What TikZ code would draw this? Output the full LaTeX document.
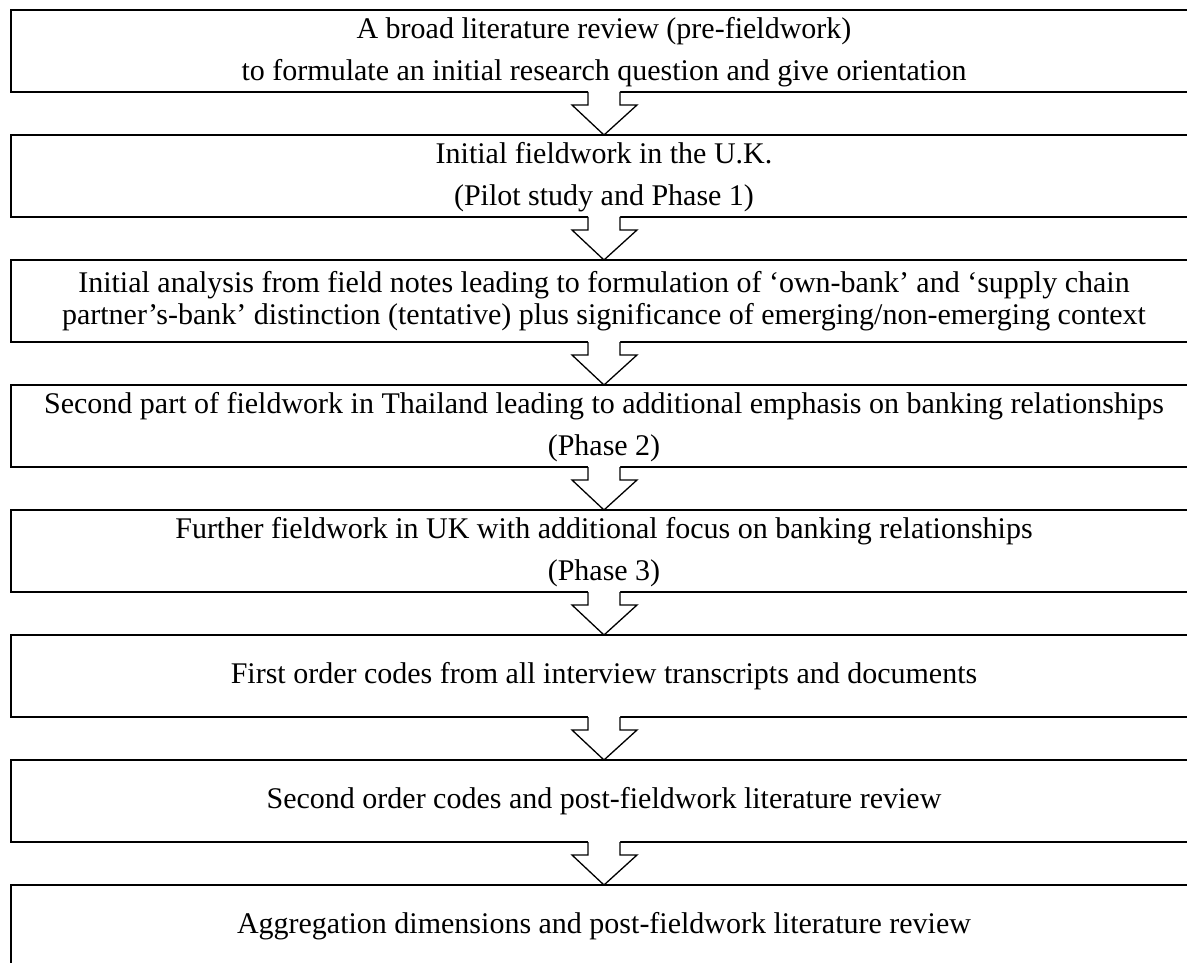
\documentclass[tikz,border=0pt]{standalone}
\usepackage{fontspec}
\setmainfont{Liberation Serif}
\usetikzlibrary{positioning,calc}
\tikzset{
  stagebox/.style={
    rectangle, draw=black, line width=1.3pt, outer sep=0pt,
    minimum width=1186pt, minimum height=82pt, align=center,
    inner sep=0pt, font=\fontsize{30}{42}\selectfont
  },
  tight/.style={font=\fontsize{30}{32}\selectfont},
  hollow/.style={draw=black, line width=1.3pt, line join=miter}
}

\begin{document}
\begin{tikzpicture}[x=1pt,y=-1pt]
\useasboundingbox (0,0) rectangle (1187,963);

% =========================
% STAGES
% =========================
\node[stagebox, anchor=north] (b1) at (604,10)
  {\rule{0pt}{24pt}A broad literature review (pre-fieldwork)\\
   to formulate an initial research question and give orientation};
\node[stagebox, below=43pt of b1] (b2)
  {\rule{0pt}{24pt}Initial fieldwork in the U.K.\\(Pilot study and Phase 1)};
\node[stagebox, tight, below=43pt of b2] (b3)
  {Initial analysis from field notes leading to formulation of ‘own-bank’ and ‘supply chain\\
   partner’s-bank’ distinction (tentative) plus significance of emerging/non-emerging context};
\node[stagebox, below=43pt of b3] (b4)
  {\rule{0pt}{24pt}Second part of fieldwork in Thailand leading to additional emphasis on banking relationships\\(Phase 2)};
\node[stagebox, below=43pt of b4] (b5)
  {\rule{0pt}{24pt}Further fieldwork in UK with additional focus on banking relationships\\(Phase 3)};
\node[stagebox, below=43pt of b5] (b6)
  {First order codes from all interview transcripts and documents};
\node[stagebox, below=43pt of b6] (b7)
  {Second order codes and post-fieldwork literature review};
\node[stagebox, below=43pt of b7] (b8)
  {Aggregation dimensions and post-fieldwork literature review};

% =========================
% HOLLOW ARROWS
% =========================
\foreach \a/\b in {b1/b2,b2/b3,b3/b4,b4/b5,b5/b6,b6/b7,b7/b8}{
  \fill[white] ($(\a.south)+(-16,-1)$) -- ($(\a.south)+(-16,13)$)
    -- ($(\a.south)+(-32,13)$) -- (\b.north) -- ($(\a.south)+(33,13)$)
    -- ($(\a.south)+(16,13)$) -- ($(\a.south)+(16,-1)$) -- cycle;
  \draw[hollow] (\a.south) ++(-16,0) -- ++(0,13) -- ++(-16,0)
    -- (\b.north) -- ($(\a.south)+(33,13)$) -- ++(-17,0) -- ++(0,-13);
}

\end{tikzpicture}
\end{document}
